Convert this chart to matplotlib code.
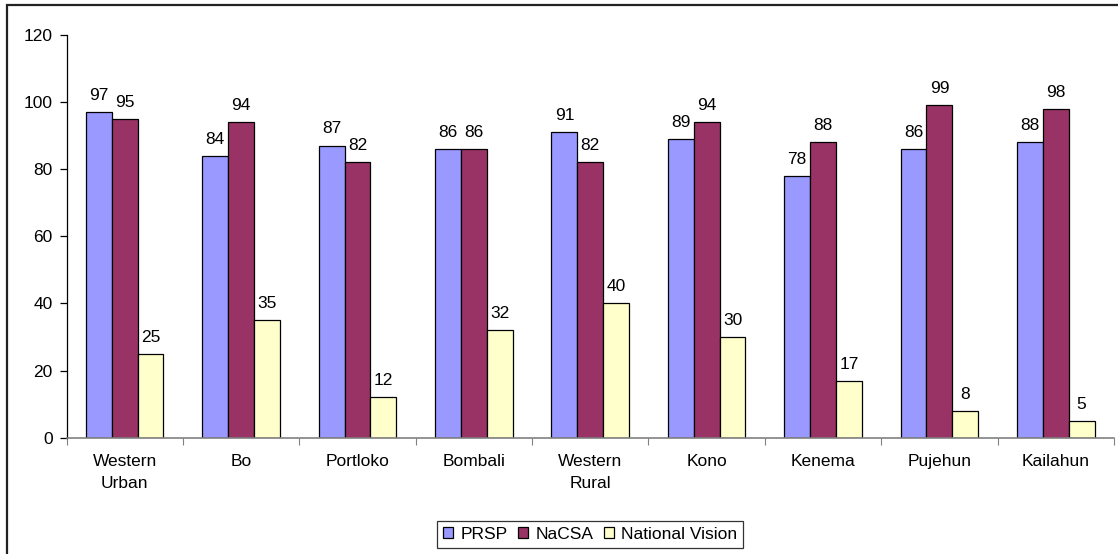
import matplotlib
matplotlib.use("Agg")
import matplotlib.pyplot as plt
import numpy as np
from matplotlib.patches import Rectangle

categories = ["Western\nUrban", "Bo", "Portloko", "Bombali", "Western\nRural",
              "Kono", "Kenema", "Pujehun", "Kailahun"]
prsp = [97, 84, 87, 86, 91, 89, 78, 86, 88]
nacsa = [95, 94, 82, 86, 82, 94, 88, 99, 98]
national_vision = [25, 35, 12, 32, 40, 30, 17, 8, 5]
series_names = ["PRSP", "NaCSA", "National Vision"]
colors = ["#9999FF", "#993366", "#FFFFCC"]
yticks = [0, 20, 40, 60, 80, 100, 120]

plt.rcParams['font.family'] = ['Liberation Sans', 'DejaVu Sans']
fs = 12.5

fig = plt.figure(figsize=(11.18, 5.54), dpi=100)
ax = fig.add_axes([66.5/1118, 1-437.7/554, (1114-66.5)/1118, (437.7-34.7)/554])

x = np.arange(len(categories))
w = 1/4.5
series = [prsp, nacsa, national_vision]
for i, (vals, name, c) in enumerate(zip(series, series_names, colors)):
    pos = x + (i-1)*w
    ax.bar(pos, vals, width=w, color=c, edgecolor="black", linewidth=0.9, label=name)
    for p, v in zip(pos, vals):
        ax.annotate(str(v), (p, v), xytext=(0, 6.5), textcoords="offset points",
                    ha="center", va="bottom", fontsize=fs)

ax.set_xlim(-0.5, len(categories)-0.5)
ax.set_ylim(0, 120)
ax.set_yticks(yticks)
ax.set_yticklabels([str(t) for t in yticks], fontsize=fs)
ax.set_xticks(np.arange(-0.5, len(categories), 1.0))
ax.set_xticklabels([])
ax.set_xticks(x, minor=True)
ax.set_xticklabels(categories, minor=True, fontsize=fs, linespacing=1.55)
ax.tick_params(axis='x', which='minor', length=0, pad=12)
ax.tick_params(axis='x', which='major', length=5, direction='out', color='#808080')
ax.tick_params(axis='y', length=5, direction='out', width=0.9, pad=5)
for s in ["top", "right"]:
    ax.spines[s].set_visible(False)
ax.spines["bottom"].set_color("#808080")
ax.spines["bottom"].set_linewidth(1.2)
ax.spines["left"].set_linewidth(0.9)

leg = ax.legend(loc="center", bbox_to_anchor=(590/1118, 1-534.5/554), bbox_transform=fig.transFigure,
                ncol=3, fontsize=fs, frameon=True, fancybox=False, edgecolor="black",
                handlelength=0.6, handleheight=0.6, handletextpad=0.4, columnspacing=0.6,
                borderpad=0.35, borderaxespad=0)
leg.get_frame().set_linewidth(0.9)

fig.patches.append(Rectangle((7/1118, -0.1), 1.2, (1-5/554)+0.1, transform=fig.transFigure,
                             fill=False, edgecolor="#222222", linewidth=1.6))

fig.savefig("out.png", dpi=100)
